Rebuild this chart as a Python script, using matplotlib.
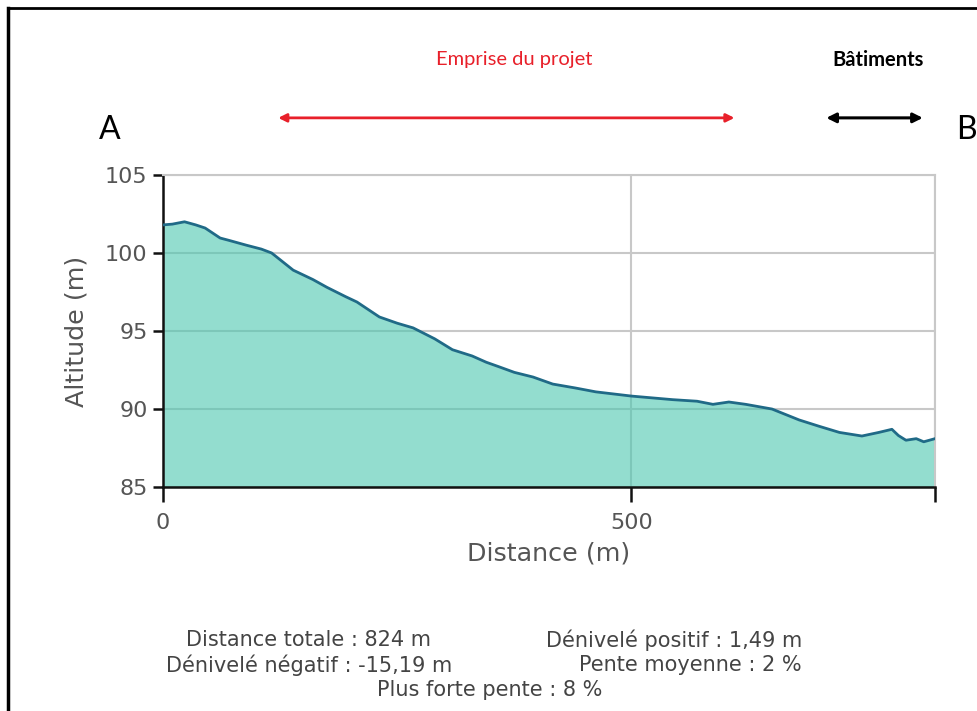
import numpy as np
import matplotlib.pyplot as plt
from matplotlib.lines import Line2D

# profile
distance = [0, 10, 23, 35, 45, 55, 61, 71, 89, 105, 116, 139, 160, 175, 195, 207,
            231, 250, 267, 290, 309, 330, 345, 359, 375, 395, 416, 440, 462, 500,
            544, 570, 587, 604, 622, 650, 679, 700, 722, 746, 764, 778, 785, 793,
            804, 812, 824]
altitude = [101.8, 101.85, 102.0, 101.8, 101.6, 101.2, 100.96, 100.8, 100.5, 100.25,
            100.0, 98.9, 98.3, 97.8, 97.2, 96.86, 95.9, 95.5, 95.2, 94.5, 93.8, 93.4,
            93.0, 92.7, 92.35, 92.05, 91.6, 91.35, 91.1, 90.83, 90.6, 90.5, 90.3,
            90.45, 90.3, 90.0, 89.3, 88.9, 88.5, 88.27, 88.5, 88.7, 88.3, 88.0, 88.1,
            87.9, 88.1]
yticks = [85, 90, 95, 100, 105]
xticks = [0, 500, 824]
xticklabels = ['0', '500', '']
project_extent = (123, 610)
buildings_extent = (708, 811)
stats_left = ['Distance totale : 824 m', 'Dénivelé négatif : -15,19 m']
stats_right = ['Dénivelé positif : 1,49 m', 'Pente moyenne : 2 %']
stats_bottom = 'Plus forte pente : 8 %'

fig = plt.figure(figsize=(9.77, 7.11), dpi=100)
ax = fig.add_axes([0.1668, 0.315, 0.7902, 0.4389])

grey = '#c8c8c8'
txt = '#555555'
ax.fill_between(distance, 85, altitude, color='#4cc7b0', alpha=0.6, lw=0, zorder=2)
ax.plot(distance, altitude, color='#206a87', lw=2, zorder=3)

ax.set_xlim(0, 824)
ax.set_ylim(85, 105)
ax.set_yticks(yticks)
ax.set_xticks(xticks)
ax.set_xticklabels(xticklabels)
ax.grid(True, color=grey, lw=1.5, zorder=1)
ax.set_axisbelow(True)
for s in ['top', 'right']:
    ax.spines[s].set_color(grey)
    ax.spines[s].set_linewidth(1.5)
for s in ['left', 'bottom']:
    ax.spines[s].set_color('#111111')
    ax.spines[s].set_linewidth(1.8)
ax.tick_params(axis='y', length=7, width=1.8, color='#111111', labelsize=16,
               labelcolor=txt, pad=4)
ax.tick_params(axis='x', length=11, width=1.8, color='#111111', labelsize=16,
               labelcolor=txt, pad=8)
ax.set_xlabel('Distance (m)', fontsize=18.3, color=txt, labelpad=6)
ax.set_ylabel('Altitude (m)', fontsize=18.3, color=txt, labelpad=12)

# arrows above the chart
tr = ax.get_xaxis_transform()
ax.annotate('', xy=(project_extent[0], 1.183), xytext=(project_extent[1], 1.183),
            xycoords=tr, textcoords=tr, annotation_clip=False,
            arrowprops=dict(arrowstyle='<|-|>', color='#e8202a', lw=2,
                            mutation_scale=12, shrinkA=0, shrinkB=0))
ax.annotate('', xy=(buildings_extent[0], 1.183), xytext=(buildings_extent[1], 1.183),
            xycoords=tr, textcoords=tr, annotation_clip=False,
            arrowprops=dict(arrowstyle='<|-|>', color='black', lw=2.2,
                            mutation_scale=14, shrinkA=0, shrinkB=0))
ax.text(np.mean(project_extent) + 8, 1.369, 'Emprise du projet', transform=tr,
        ha='center', va='center', color='#e8202a', fontsize=14.5, family='Lato')
ax.text(np.mean(buildings_extent) + 4, 1.369, 'Bâtiments', transform=tr,
        ha='center', va='center', color='black', fontsize=14.5, family='Lato',
        fontweight='bold')
fig.text(110 / 977, 1 - 130 / 711, 'A', fontsize=23, family='Lato', ha='center', va='center')
fig.text(966 / 977, 1 - 130 / 711, 'B', fontsize=23, family='Lato', ha='center', va='center')

# statistics block
for i, s in enumerate(stats_left):
    fig.text(309 / 977, 1 - (640 + 25 * i) / 711, s, fontsize=15, color='#444444',
             ha='center', va='center')
for i, s in enumerate(stats_right):
    fig.text(802 / 977, 1 - (640 + 25 * i) / 711, s, fontsize=15, color='#444444',
             ha='right', va='center')
fig.text(490 / 977, 1 - 690 / 711, stats_bottom, fontsize=15, color='#444444',
         ha='center', va='center')

# frame around the figure (top and left only visible)
fig.add_artist(Line2D([8 / 977, 1], [1 - 8 / 711, 1 - 8 / 711], color='black', lw=2,
                      transform=fig.transFigure))
fig.add_artist(Line2D([8 / 977, 8 / 977], [0, 1 - 8 / 711], color='black', lw=2.5,
                      transform=fig.transFigure))

fig.savefig('out.png', dpi=100)
